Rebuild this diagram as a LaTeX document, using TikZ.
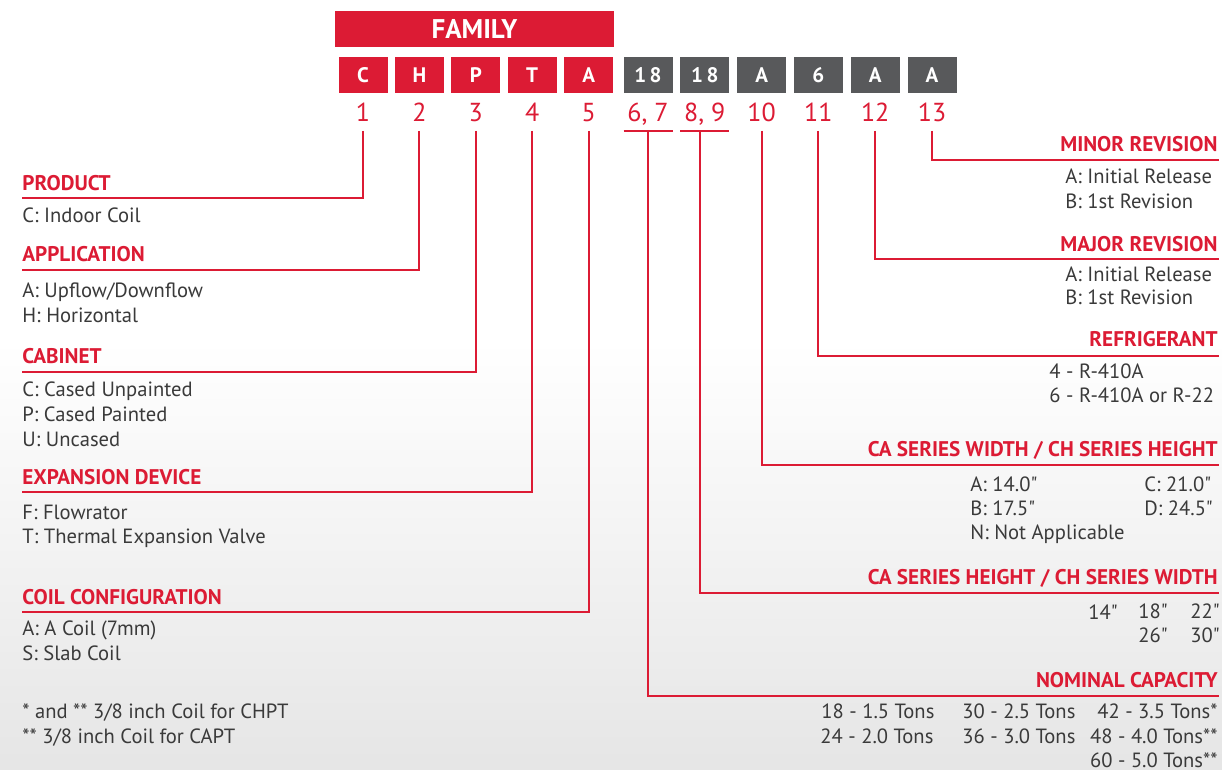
\documentclass[tikz,border=0pt]{standalone}
\usepackage{fontspec}
\setmainfont{PT Sans}
\usetikzlibrary{positioning}
\definecolor{codeRed}{HTML}{DC1B34}
\definecolor{codeGray}{HTML}{58595B}
\definecolor{codeText}{HTML}{3A3A3A}

\begin{document}
\begin{tikzpicture}[x=0.5pt,y=-0.5pt,
  lead/.style={draw=codeRed,line width=1pt},
  redbox/.style={fill=codeRed,text=white,font=\bfseries\fontsize{10.5}{12}\selectfont,
    minimum width=24.5pt,minimum height=18pt,inner sep=0pt,outer sep=0pt},
  graybox/.style={redbox,fill=codeGray},
  num/.style={text=codeRed,font=\fontsize{13}{15}\selectfont,anchor=base,inner sep=0pt},
  head/.style={text=codeRed,font=\bfseries\fontsize{10.6}{12}\selectfont,inner sep=0pt},
  body/.style={text=codeText,font=\fontsize{10.3}{12}\selectfont,inner sep=0pt,anchor=base west}]
  \useasboundingbox (0,0) rectangle (1222,770);
  \fill[white] (0,0) rectangle (1222,770);
  \shade[top color=white,bottom color=black!10] (0,340) rectangle (1222,770);

  % model number boxes
  \node[redbox,minimum width=139.5pt,font=\bfseries\fontsize{13.5}{15}\selectfont]
    (family) at (474.5,29) {FAMILY};
  \node[redbox] (b1) at (363,75) {C};
  \node[redbox,right=3.7pt of b1] (b2) {H};
  \node[redbox,right=3.7pt of b2] (b3) {P};
  \node[redbox,right=3.7pt of b3] (b4) {T};
  \node[redbox,right=3.7pt of b4] (b5) {A};
  \node[graybox,right=5.2pt of b5] (b6) {1\,8};
  \node[graybox,right=3.9pt of b6] (b7) {1\,8};
  \node[graybox,right=3.9pt of b7] (b8) {A};
  \node[graybox,right=3.9pt of b8] (b9) {6};
  \node[graybox,right=3.9pt of b9] (b10) {A};
  \node[graybox,right=3.9pt of b10] (b11) {A};

  % position digits
  \coordinate (numrow) at (0,122);
  \coordinate (legtop) at (0,131);
  \node[num] (n1) at (b1 |- numrow) {1};
  \node[num] (n2) at (b2 |- numrow) {2};
  \node[num] (n3) at (b3 |- numrow) {3};
  \node[num] (n4) at (b4 |- numrow) {4};
  \node[num] (n5) at (b5 |- numrow) {5};
  \node[num] (n6) at (b6 |- numrow) {6, 7};
  \node[num] (n7) at (b7 |- numrow) {8, 9};
  \node[num] (n8) at (b8 |- numrow) {10};
  \node[num] (n9) at (b9 |- numrow) {11};
  \node[num] (n10) at (b10 |- numrow) {12};
  \node[num] (n11) at (b11 |- numrow) {13};

  % left side
  \coordinate (prodL) at (22,198);
  \coordinate (applL) at (22,270);
  \coordinate (cabL) at (22,372);
  \coordinate (expL) at (22,492);
  \coordinate (coilL) at (22,612);
  \node[head,anchor=base west] (prod) at (22,191) {PRODUCT};
  \node[body] (prodC) at (22,223) {C: Indoor Coil};
  \node[head,anchor=base west] (appl) at (22,262) {APPLICATION};
  \node[body] (applA) at (22,298) {A: Upflow/Downflow};
  \node[body] (applH) at (22,323) {H: Horizontal};
  \node[head,anchor=base west] (cab) at (22,364) {CABINET};
  \node[body] (cabC) at (22,397) {C: Cased Unpainted};
  \node[body] (cabP) at (22,422) {P: Cased Painted};
  \node[body] (cabU) at (22,446) {U: Uncased};
  \node[head,anchor=base west] (exp) at (22,484) {EXPANSION DEVICE};
  \node[body] (expF) at (22,519) {F: Flowrator};
  \node[body] (expT) at (22,544) {T: Thermal Expansion Valve};
  \node[head,anchor=base west] (coil) at (22,604) {COIL CONFIGURATION};
  \node[body] (coilA) at (22,635) {A: A Coil (7mm)};
  \node[body] (coilS) at (22,660) {S: Slab Coil};
  \node[body] (note1) at (22,718) {* and ** 3/8 inch Coil for CHPT};
  \node[body] (note2) at (22,743) {** 3/8 inch Coil for CAPT};

  \draw[lead] (n1 |- legtop) |- (prodL);
  \draw[lead] (n2 |- legtop) |- (applL);
  \draw[lead] (n3 |- legtop) |- (cabL);
  \draw[lead] (n4 |- legtop) |- (expL);
  \draw[lead] (n5 |- legtop) |- (coilL);

  % right side
  \coordinate (minR) at (1219,160);
  \coordinate (majR) at (1219,259);
  \coordinate (refR) at (1219,356);
  \coordinate (widR) at (1219,465);
  \coordinate (hgtR) at (1219,593);
  \coordinate (capR) at (1219,696);
  \node[head,anchor=base east] (minor) at (1218,152) {MINOR REVISION};
  \node[body] (minorA) at (1065,184) {A: Initial Release};
  \node[body] (minorB) at (1065,209) {B: 1st Revision};
  \node[head,anchor=base east] (major) at (1218,252) {MAJOR REVISION};
  \node[body] (majorA) at (1065,282) {A: Initial Release};
  \node[body] (majorB) at (1065,305) {B: 1st Revision};
  \node[head,anchor=base east] (refr) at (1218,347) {REFRIGERANT};
  \node[body] (refr4) at (1049,379) {4 - R-410A};
  \node[body] (refr6) at (1049,403) {6 - R-410A or R-22};
  \node[head,anchor=base east] (wid) at (1218,457) {CA SERIES WIDTH / CH SERIES HEIGHT};
  \node[body] (widA) at (970,492) {A: 14.0\textquotedbl};
  \node[body] (widB) at (970,516) {B: 17.5\textquotedbl};
  \node[body] (widN) at (970,539) {N: Not Applicable};
  \node[body] (widC) at (1144,492) {C: 21.0\textquotedbl};
  \node[body] (widD) at (1144,516) {D: 24.5\textquotedbl};
  \node[head,anchor=base east] (hgt) at (1218,584) {CA SERIES HEIGHT / CH SERIES WIDTH};
  \node[body] (hgt14) at (1088,619) {14\textquotedbl};
  \node[body] (hgt18) at (1138,618) {18\textquotedbl};
  \node[body] (hgt22) at (1190,618) {22\textquotedbl};
  \node[body] (hgt26) at (1138,642) {26\textquotedbl};
  \node[body] (hgt30) at (1190,642) {30\textquotedbl};
  \node[head,anchor=base east] (cap) at (1218,687) {NOMINAL CAPACITY};
  \node[body] (cap18) at (821,718) {18 - 1.5 Tons};
  \node[body] (cap24) at (820,743) {24 - 2.0 Tons};
  \node[body] (cap30) at (962,718) {30 - 2.5 Tons};
  \node[body] (cap36) at (962,743) {36 - 3.0 Tons};
  \node[body,anchor=base east] (cap42) at (1218,718) {42 - 3.5 Tons*};
  \node[body,anchor=base east] (cap48) at (1218,743) {48 - 4.0 Tons**};
  \node[body,anchor=base east] (cap60) at (1218,767) {60 - 5.0 Tons**};

  \path (n7 |- legtop) ++(-5,0) coordinate (hgtTop);
  \draw[lead] (b6.west |- legtop) -- (b6.east |- legtop);
  \draw[lead] (b7.west |- legtop) -- (b7.east |- legtop);
  \draw[lead] (n6 |- legtop) |- (capR);
  \draw[lead] (hgtTop) |- (hgtR);
  \draw[lead] (n8 |- legtop) |- (widR);
  \draw[lead] (n9 |- legtop) |- (refR);
  \draw[lead] (n10 |- legtop) |- (majR);
  \draw[lead] (n11 |- legtop) |- (minR);
\end{tikzpicture}
\end{document}
